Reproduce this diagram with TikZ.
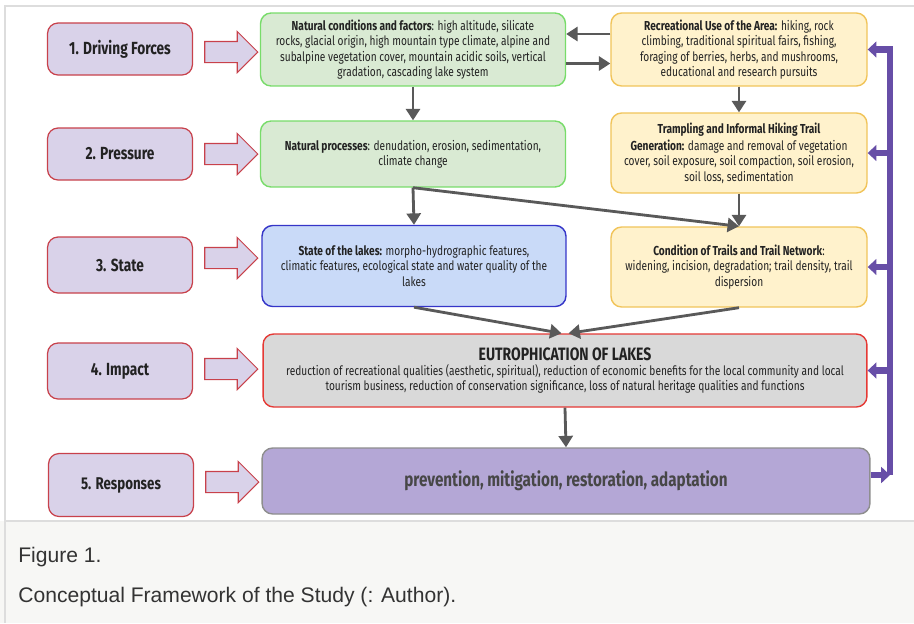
\documentclass[tikz,border=0pt]{standalone}
\usepackage{fontspec}
\setmainfont{Liberation Sans}
\newfontfamily\condfont[FakeStretch=0.78]{Fira Sans}
\usetikzlibrary{arrows.meta,shapes.arrows,positioning}

\definecolor{stagefill}{HTML}{D9D2E9}
\definecolor{stageborder}{HTML}{C8414B}
\definecolor{natfill}{HTML}{D9EAD3}
\definecolor{natborder}{HTML}{78DC6A}
\definecolor{lakefill}{HTML}{C9DAF8}
\definecolor{lakeborder}{HTML}{3535C8}
\definecolor{usefill}{HTML}{FFF2CC}
\definecolor{useborder}{HTML}{F1C45A}
\definecolor{eutrofill}{HTML}{D9D9D9}
\definecolor{eutroborder}{HTML}{E53935}
\definecolor{respfill}{HTML}{B4A7D6}
\definecolor{respborder}{HTML}{8E8E8E}
\definecolor{linkgrey}{HTML}{595959}
\definecolor{fbpurple}{HTML}{674EA7}
\definecolor{textgrey}{HTML}{222222}
\definecolor{captionbg}{HTML}{F7F7F5}
\definecolor{framegrey}{HTML}{DDDDDD}

\tikzset{
  stage/.style={draw=stageborder, fill=stagefill, rounded corners=6pt, line width=0.7pt,
    minimum width=2.9cm, text=textgrey, font=\condfont\bfseries\fontsize{10}{12}\selectfont},
  blockarrow/.style={single arrow, draw=stageborder, fill=stagefill, line width=0.6pt,
    minimum height=1.06cm, inner xsep=0pt, inner ysep=0.2cm, single arrow head extend=0.2cm,
    single arrow head indent=0pt},
  box/.style={rounded corners=6pt, line width=0.8pt, align=center, inner sep=2pt,
    text=textgrey, font=\condfont\fontsize{7.4}{8.7}\selectfont},
  natbox/.style={box, draw=natborder, fill=natfill},
  lakebox/.style={box, draw=lakeborder, fill=lakefill},
  usebox/.style={box, draw=useborder, fill=usefill},
  link/.style={draw=linkgrey, line width=1.6pt, -{Triangle[length=6.5pt,width=8pt]}},
  feedback/.style={draw=fbpurple, line width=3.6pt, -{Triangle[length=5pt,width=9pt]}}
}

\begin{document}
\begin{tikzpicture}[x=0.02cm, y=-0.02cm]
  \useasboundingbox (0,0) rectangle (914,623);
  % frame and caption area
  \fill[white] (0,0) rectangle (914,521);
  \fill[captionbg] (0,521) rectangle (914,623);
  \draw[framegrey, line width=0.8pt] (5,623) -- (5,6) -- (914,6);
  \draw[framegrey, line width=0.8pt] (5,521) -- (914,521);

  % stages
  \node[stage, minimum height=1.04cm] (drive) at (120,49) {1. Driving Forces};
  \node[stage, minimum height=1.04cm] (press) at (120,154) {2. Pressure};
  \node[stage, minimum height=1.12cm] (state) at (120,265) {3. State};
  \node[stage, minimum height=1.12cm] (impact) at (120,371) {4. Impact};
  \node[stage, minimum height=1.26cm, font=\condfont\bfseries\fontsize{9.7}{11}\selectfont] (resp) at (121,485) {5. Responses};

  \node[blockarrow] (da1) at (226,52) {};
  \node[blockarrow] (da2) at (226,154) {};
  \node[blockarrow] (da3) at (226,258) {};
  \node[blockarrow] (da4) at (226,369) {};
  \node[blockarrow] (da5) at (227,482) {};

  % middle column
  \node[natbox, minimum width=6.1cm, minimum height=1.46cm] (natcond) at (413,49.5)
    {\textbf{Natural conditions and factors}: high altitude, silicate\\
     rocks, glacial origin, high mountain type climate, alpine and\\
     subalpine vegetation cover, mountain acidic soils, vertical\\
     gradation, cascading lake system};
  \node[natbox, minimum width=6.1cm, minimum height=1.32cm] (natproc) at (413,154)
    {\textbf{Natural processes}: denudation, erosion, sedimentation,\\
     climate change};
  \node[lakebox, minimum width=6.08cm, minimum height=1.62cm] (lakes) at (414,266)
    {\textbf{State of the lakes:} morpho-hydrographic features,\\
     climatic features, ecological state and water quality of the\\
     lakes};

  % right column
  \node[usebox, minimum width=5.12cm, minimum height=1.46cm] (recuse) at (739,49.5)
    {\textbf{Recreational Use of the Area:} hiking, rock\\
     climbing, traditional spiritual fairs, fishing,\\
     foraging of berries, herbs, and mushrooms,\\
     educational and research pursuits};
  \node[usebox, minimum width=5.12cm, minimum height=1.6cm] (trampl) at (739,153)
    {\textbf{Trampling and Informal Hiking Trail}\\[1pt]
     \textbf{Generation:} damage and removal of vegetation\\
     cover, soil exposure, soil compaction, soil erosion,\\
     soil loss, sedimentation};
  \node[usebox, minimum width=5.12cm, minimum height=1.6cm] (trailcond) at (739,267)
    {\textbf{Condition of Trails and Trail Network}:\\
     widening, incision, degradation; trail density, trail\\
     dispersion};

  % impact and responses
  \node[box, draw=eutroborder, fill=eutrofill, minimum width=12.08cm, minimum height=1.46cm] (eutro) at (565,370.5)
    {{\bfseries\fontsize{10.2}{12}\selectfont EUTROPHICATION OF LAKES}\\
     reduction of recreational qualities (aesthetic, spiritual), reduction of economic benefits for the local community and local\\
     tourism business, reduction of conservation significance, loss of natural heritage qualities and functions};
  \node[box, draw=respborder, fill=respfill, minimum width=12.16cm, minimum height=1.32cm, text=black!72,
    font=\condfont\bfseries\fontsize{11.1}{13}\selectfont] (prevent) at (566,481)
    {prevention, mitigation, restoration, adaptation};

  % links
  \draw[link] (natcond.south) -- (natproc.north);
  \draw[link] ([yshift=0.31cm]recuse.west) -- ([yshift=0.31cm]natcond.east);
  \draw[link] ([yshift=-0.28cm]natcond.east) -- ([yshift=-0.28cm]recuse.west);
  \draw[link] (recuse.south) -- (trampl.north);
  \draw[link] (trampl.south) -- (trailcond.north);
  \draw[link] (natproc.south) -- (lakes.north);
  \draw[link] (natproc.south) -- (trailcond.north);
  \draw[link] (lakes.south) -- ([xshift=-2pt]eutro.north);
  \draw[link] (trailcond.south) -- ([xshift=2pt]eutro.north);
  \draw[link] (eutro.south) -- (prevent.north);

  % feedback bar
  \coordinate (fbtop) at (890,48);
  \draw[feedback] ([yshift=0.12cm]prevent.east) -- ([yshift=0.12cm]prevent.east -| fbtop);
  \draw[feedback] ([yshift=0.12cm]prevent.east -| fbtop) |- (recuse.east);
  \draw[feedback] (fbtop |- trampl.east) -- (trampl.east);
  \draw[feedback] (fbtop |- trailcond.east) -- (trailcond.east);
  \draw[feedback] (fbtop |- eutro.east) -- (eutro.east);

  % caption
  \node[anchor=base west, inner sep=0pt, text=black!80, font=\fontsize{12}{14}\selectfont] (figno) at (18,562) {Figure 1.};
  \node[anchor=base west, inner sep=0pt, text=black!80, font=\fontsize{12}{14}\selectfont] (figtitle) at (18,602) {Conceptual Framework of the Study (: Author).};
\end{tikzpicture}
\end{document}
